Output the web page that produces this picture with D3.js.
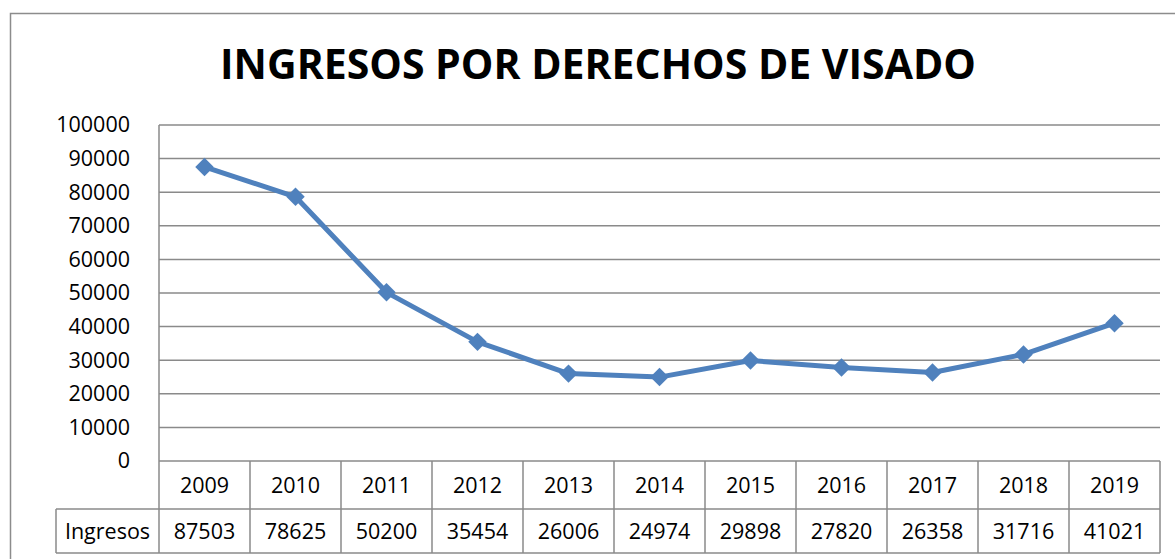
<!DOCTYPE html>
<html>
<head>
<meta charset="utf-8">
<script src="https://cdn.jsdelivr.net/npm/d3@7"></script>
<style>
  body { margin: 0; background: #fff; }
  text { font-family: "Open Sans", "Noto Sans", sans-serif; fill: #000; }
</style>
</head>
<body>
<div id="chart"></div>
<script>
// Data
const years = ["2009", "2010", "2011", "2012", "2013", "2014", "2015", "2016", "2017", "2018", "2019"];
const ingresos = [87503, 78625, 50200, 35454, 26006, 24974, 29898, 27820, 26358, 31716, 41021];
const yTicks = [0, 10000, 20000, 30000, 40000, 50000, 60000, 70000, 80000, 90000, 100000];
const seriesName = "Ingresos";
const title = "INGRESOS POR DERECHOS DE VISADO";

const W = 1175, H = 559;
// plot area
const plot = {left: 159, right: 1160, top: 125, bottom: 461};
const rowH = [48, 44]; // year row, value row
const fontSize = "21.5px";

const svg = d3.select("#chart").append("svg")
    .attr("width", W)
    .attr("height", H);

// outer chart frame (runs off right and bottom edges)
svg.append("rect")
    .attr("x", 10.5).attr("y", 13.5)
    .attr("width", W + 10).attr("height", H + 10)
    .attr("fill", "none")
    .attr("stroke", "#8c8c8c")
    .attr("stroke-width", 1.5);

// title
svg.append("text")
    .attr("x", 598)
    .attr("y", 79)
    .attr("text-anchor", "middle")
    .style("font-size", "41px")
    .style("font-weight", "bold")
    .text(title);

const x = d3.scaleBand()
    .domain(years)
    .range([plot.left, plot.right]);

const y = d3.scaleLinear()
    .domain([0, 100000])
    .range([plot.bottom, plot.top]);

// horizontal gridlines
svg.append("g")
    .selectAll("line")
    .data(yTicks)
    .enter().append("line")
    .attr("x1", plot.left).attr("x2", plot.right)
    .attr("y1", d => y(d)).attr("y2", d => y(d))
    .attr("stroke", "#8a8a8a")
    .attr("stroke-width", 1.5);

// left border of plot
svg.append("line")
    .attr("x1", plot.left).attr("x2", plot.left)
    .attr("y1", plot.top).attr("y2", plot.bottom)
    .attr("stroke", "#8a8a8a")
    .attr("stroke-width", 1.5);

// y axis labels
const yAxis = d3.axisLeft(y).tickValues(yTicks).tickFormat(d3.format("d")).tickSize(0).tickPadding(29);
svg.append("g")
    .attr("transform", `translate(${plot.left},0)`)
    .call(yAxis)
    .call(g => g.select(".domain").remove())
    .call(g => g.selectAll("text")
        .style("font-family", "'Open Sans', sans-serif")
        .style("font-size", fontSize)
        .attr("fill", "#000"));

// data table below the plot
const table = svg.append("g");
const tableBottom = plot.bottom + rowH[0] + rowH[1];
const labelLeft = 56;
const gridColor = "#8a8a8a";

// vertical cell borders
table.selectAll(".vline")
    .data(years.concat(["end"]))
    .enter().append("line")
    .attr("x1", d => d === "end" ? plot.right : x(d))
    .attr("x2", d => d === "end" ? plot.right : x(d))
    .attr("y1", plot.bottom)
    .attr("y2", tableBottom)
    .attr("stroke", gridColor)
    .attr("stroke-width", 1.5);

// horizontal rows
[plot.bottom + rowH[0], tableBottom].forEach(yy => {
    table.append("line")
        .attr("x1", labelLeft).attr("x2", plot.right)
        .attr("y1", yy).attr("y2", yy)
        .attr("stroke", gridColor)
        .attr("stroke-width", 1.5);
});
table.append("line")
    .attr("x1", labelLeft).attr("x2", labelLeft)
    .attr("y1", plot.bottom + rowH[0]).attr("y2", tableBottom)
    .attr("stroke", gridColor)
    .attr("stroke-width", 1.5);

// year labels
table.selectAll(".year")
    .data(years)
    .enter().append("text")
    .attr("x", d => x(d) + x.bandwidth() / 2)
    .attr("y", plot.bottom + rowH[0] / 2 + 8)
    .attr("text-anchor", "middle")
    .style("font-size", fontSize)
    .text(d => d);

// value labels
table.selectAll(".val")
    .data(ingresos)
    .enter().append("text")
    .attr("x", (d, i) => x(years[i]) + x.bandwidth() / 2)
    .attr("y", plot.bottom + rowH[0] + rowH[1] / 2 + 8)
    .attr("text-anchor", "middle")
    .style("font-size", fontSize)
    .text(d => d);

table.append("text")
    .attr("x", (labelLeft + plot.left) / 2)
    .attr("y", plot.bottom + rowH[0] + rowH[1] / 2 + 8)
    .attr("text-anchor", "middle")
    .style("font-size", fontSize)
    .text(seriesName);

// the line
const line = d3.line()
    .x((d, i) => x(years[i]) + x.bandwidth() / 2)
    .y(d => y(d));

svg.append("path")
    .datum(ingresos)
    .attr("d", line)
    .attr("fill", "none")
    .attr("stroke", "#4f81bd")
    .attr("stroke-width", 5)
    .attr("stroke-linejoin", "round");

// diamond markers
const diamond = d3.symbol().type(d3.symbolSquare).size(170);
svg.append("g")
    .selectAll("path")
    .data(ingresos)
    .enter().append("path")
    .attr("d", diamond)
    .attr("transform", (d, i) => `translate(${x(years[i]) + x.bandwidth() / 2},${y(d)}) rotate(45)`)
    .attr("fill", "#4f81bd");
</script>
</body>
</html>
